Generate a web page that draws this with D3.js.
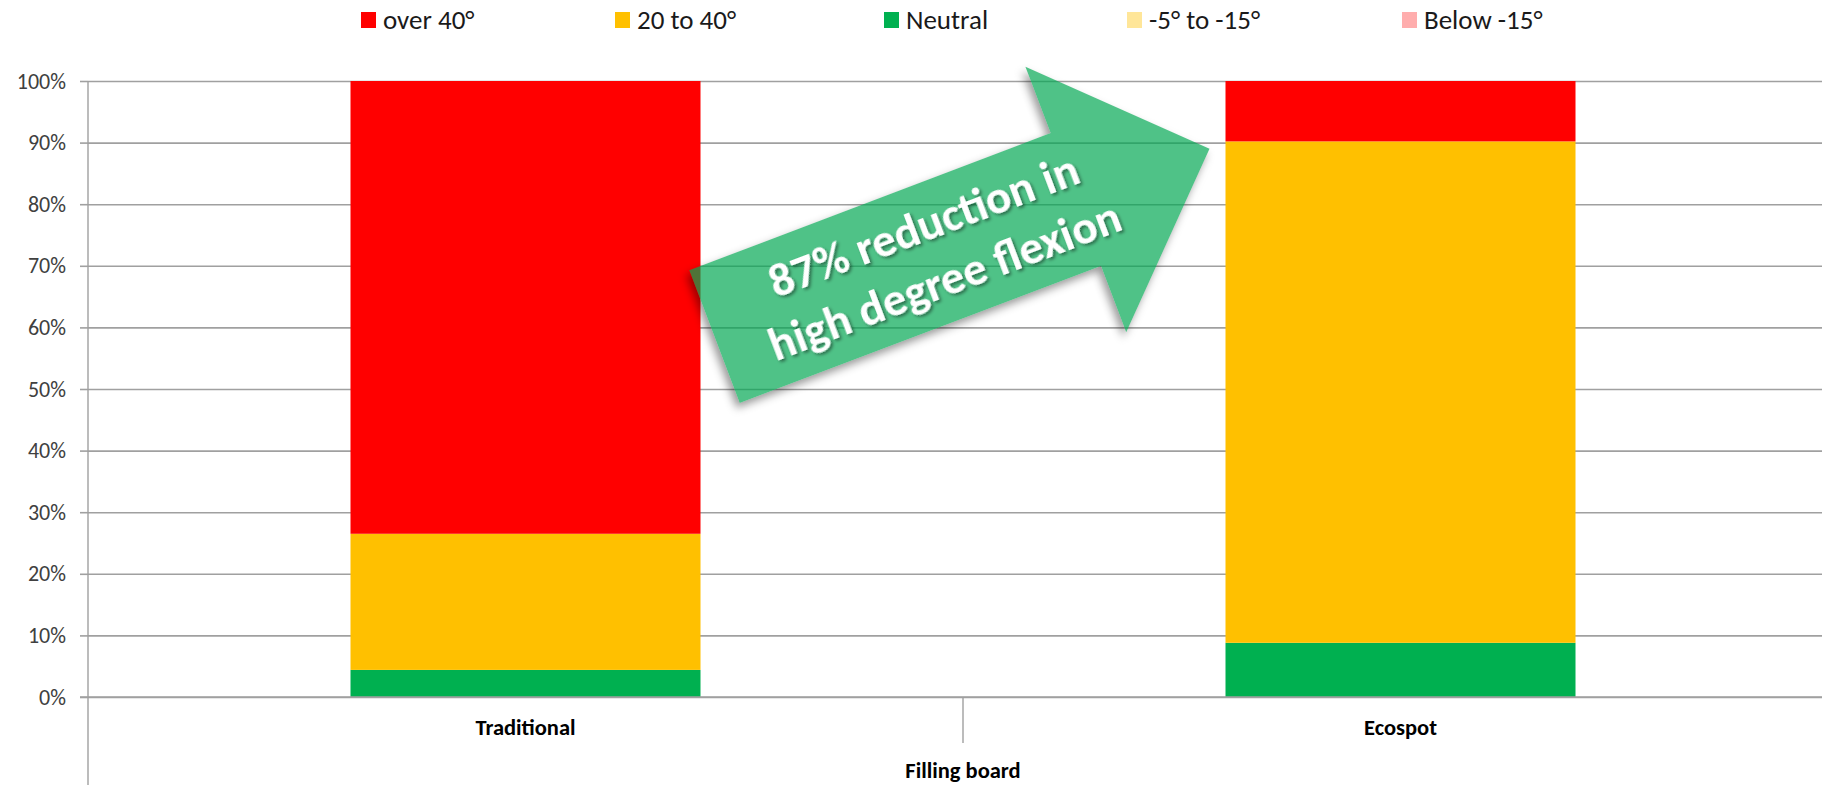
<!DOCTYPE html>
<html>
<head>
<meta charset="utf-8">
<script src="https://cdn.jsdelivr.net/npm/d3@7"></script>
<style>
  html, body { margin: 0; padding: 0; background: #ffffff; }
  svg { display: block; font-family: Carlito, Lato, "Liberation Sans", Arial, sans-serif; }
</style>
</head>
<body>
<svg id="chart" width="1822" height="785"></svg>
<script>
// ---- data ----
const categories = ["Traditional", "Ecospot"];
const legendOrder = ["over 40°", "20 to 40°", "Neutral", "-5° to -15°", "Below -15°"];
const stackOrder = ["Neutral", "20 to 40°", "over 40°", "-5° to -15°", "Below -15°"];
const seriesColors = ["#FF0000", "#FFC000", "#00B050", "#FFE699", "#FFADAD"];
const over40 = [0.735, 0.098];
const from20to40 = [0.221, 0.814];
const neutral = [0.044, 0.088];
const minus5to15 = [0, 0];
const below15 = [0, 0];
const yTicks = [0, 0.1, 0.2, 0.3, 0.4, 0.5, 0.6, 0.7, 0.8, 0.9, 1.0];
const axisTitle = "Filling board";
const calloutLines = ["87% reduction in", "high degree flexion"];

const seriesValues = {
  "over 40°": over40,
  "20 to 40°": from20to40,
  "Neutral": neutral,
  "-5° to -15°": minus5to15,
  "Below -15°": below15
};
const colorOf = d3.scaleOrdinal(legendOrder, seriesColors);

const rows = categories.map((c, i) => {
  const r = { category: c };
  legendOrder.forEach(k => r[k] = seriesValues[k][i]);
  return r;
});

// ---- layout ----
const W = 1822, H = 785;
const plot = { left: 88, right: 1838, top: 81, bottom: 697 };
const legendSlots = [361, 615, 884, 1127, 1402];
const svg = d3.select("#chart");

const x = d3.scaleBand().domain(categories).range([plot.left, plot.right]).padding(0);
const y = d3.scaleLinear().domain([0, 1]).range([plot.bottom, plot.top]);
const barW = x.bandwidth() * 0.4;
const barX = c => x(c) + (x.bandwidth() - barW) / 2;

const gridColor = "#a0a0a0";

// horizontal gridlines
svg.append("g")
  .attr("transform", `translate(${plot.left},0)`)
  .call(d3.axisLeft(y).tickValues(yTicks).tickSize(-(plot.right - plot.left)).tickFormat(""))
  .call(g => g.select(".domain").remove())
  .call(g => g.selectAll(".tick line").attr("stroke", gridColor).attr("stroke-width", 1.6));

// value axis labels with small outer ticks
svg.append("g")
  .attr("transform", `translate(${plot.left},0)`)
  .call(d3.axisLeft(y).tickValues(yTicks).tickSize(8).tickPadding(14).tickFormat(d3.format(".0%")))
  .call(g => g.select(".domain").remove())
  .call(g => g.selectAll(".tick line").attr("stroke", gridColor).attr("stroke-width", 1.6))
  .call(g => g.selectAll(".tick text")
    .attr("fill", "#404040")
    .style("font-size", "22px")
    .style("font-family", "Carlito, Lato, 'Liberation Sans', Arial, sans-serif"));

// stacked bars
const stacked = d3.stack().keys(stackOrder)(rows);
svg.append("g")
  .selectAll("g")
  .data(stacked)
  .join("g")
  .attr("fill", d => colorOf(d.key))
  .selectAll("rect")
  .data(d => d.filter(s => s[1] - s[0] > 0))
  .join("rect")
  .attr("x", d => barX(d.data.category))
  .attr("width", barW)
  .attr("y", d => y(d[1]))
  .attr("height", d => y(d[0]) - y(d[1]));

// category axis line, vertical axis line and group separators
svg.append("line")
  .attr("x1", plot.left - 8).attr("x2", plot.right)
  .attr("y1", y(0)).attr("y2", y(0))
  .attr("stroke", gridColor).attr("stroke-width", 1.6);
svg.append("line")
  .attr("x1", plot.left).attr("x2", plot.left)
  .attr("y1", y(1)).attr("y2", H)
  .attr("stroke", gridColor).attr("stroke-width", 1.4);
svg.append("g")
  .selectAll("line")
  .data(categories.slice(1))
  .join("line")
  .attr("x1", c => x(c)).attr("x2", c => x(c))
  .attr("y1", y(0)).attr("y2", y(0) + 46)
  .attr("stroke", gridColor).attr("stroke-width", 1.4);

// category labels
svg.append("g")
  .selectAll("text")
  .data(categories)
  .join("text")
  .attr("x", c => x(c) + x.bandwidth() / 2)
  .attr("y", y(0) + 38)
  .attr("text-anchor", "middle")
  .attr("fill", "#000")
  .style("font-weight", "bold")
  .style("font-size", "22.5px")
  .text(c => c);

svg.append("text")
  .attr("x", (plot.left + plot.right) / 2)
  .attr("y", y(0) + 81)
  .attr("text-anchor", "middle")
  .attr("fill", "#000")
  .style("font-weight", "bold")
  .style("font-size", "22.5px")
  .text(axisTitle);

// legend
const legend = svg.append("g")
  .selectAll("g")
  .data(legendOrder)
  .join("g")
  .attr("transform", (d, i) => `translate(${legendSlots[i]},0)`);
legend.append("rect")
  .attr("x", 0).attr("y", 12).attr("width", 15).attr("height", 16)
  .attr("fill", d => colorOf(d));
legend.append("text")
  .attr("x", 22).attr("y", 28.5)
  .attr("fill", "#1a1a1a")
  .style("font-size", "27px")
  .text(d => d);

// callout arrow between the two bars
const defs = svg.append("defs");
const blur = defs.append("filter").attr("id", "soft").attr("x", "-20%").attr("y", "-20%").attr("width", "140%").attr("height", "140%");
blur.append("feGaussianBlur").attr("stdDeviation", 4);
const tshadow = defs.append("filter").attr("id", "textShadow").attr("x", "-10%").attr("y", "-30%").attr("width", "120%").attr("height", "160%");
tshadow.append("feDropShadow").attr("dx", 1.5).attr("dy", 2.5).attr("stdDeviation", 1.8)
  .attr("flood-color", "#000").attr("flood-opacity", 0.45);

const tail = [barX("Traditional") + barW + 14, y(0.585)];
const tip = [barX("Ecospot") - 16, y(0.89)];
const dx = tip[0] - tail[0], dy = tip[1] - tail[1];
const len = Math.hypot(dx, dy);
const ang = Math.atan2(dy, dx) * 180 / Math.PI;
const headLen = 143, headHalf = 142, shaftHalf = 71;
const arrowPath = d3.path();
arrowPath.moveTo(0, -shaftHalf);
arrowPath.lineTo(len - headLen, -shaftHalf);
arrowPath.lineTo(len - headLen, -headHalf);
arrowPath.lineTo(len, 0);
arrowPath.lineTo(len - headLen, headHalf);
arrowPath.lineTo(len - headLen, shaftHalf);
arrowPath.lineTo(0, shaftHalf);
arrowPath.closePath();
const arrowD = arrowPath.toString();
const arrowTransform = `translate(${tail[0]},${tail[1]}) rotate(${ang})`;

// shadow only outside the shape
const mask = defs.append("mask").attr("id", "outsideArrow").attr("maskUnits", "userSpaceOnUse")
  .attr("x", 0).attr("y", 0).attr("width", W).attr("height", H);
mask.append("rect").attr("width", W).attr("height", H).attr("fill", "#fff");
mask.append("path").attr("d", arrowD).attr("transform", arrowTransform).attr("fill", "#000");

svg.append("g").attr("mask", "url(#outsideArrow)")
  .append("g").attr("transform", "translate(-3,5)")
  .append("path")
  .attr("d", arrowD)
  .attr("transform", arrowTransform)
  .attr("fill", "#000")
  .attr("fill-opacity", 0.4)
  .attr("filter", "url(#soft)");

const arrow = svg.append("g").attr("transform", arrowTransform);
arrow.append("path")
  .attr("d", arrowD)
  .attr("fill", "#00A651")
  .attr("fill-opacity", 0.69);

const label = arrow.append("g")
  .attr("transform", "translate(235,0)")
  .attr("filter", "url(#textShadow)");
label.selectAll("text")
  .data(calloutLines)
  .join("text")
  .attr("x", 0)
  .attr("y", (d, i) => -14 + i * 59)
  .attr("text-anchor", "middle")
  .attr("fill", "#ffffff")
  .style("font-weight", "bold")
  .style("font-size", "47px")
  .text(d => d);
</script>
</body>
</html>
